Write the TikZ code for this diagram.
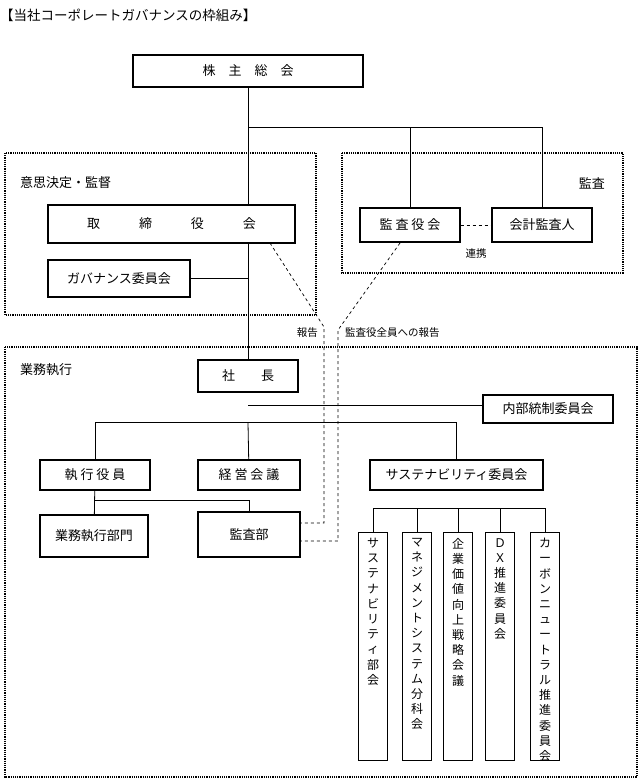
\documentclass[tikz,border=0pt]{standalone}
\usepackage{fontspec}
\setmainfont{Noto Sans CJK JP}
\usetikzlibrary{positioning}

\tikzset{
  box/.style={draw, line width=1.1pt, inner sep=0pt, font=\fontsize{13}{15}\selectfont},
  tall/.style={draw, line width=1.1pt, inner sep=0pt, minimum width=29pt, minimum height=228pt, anchor=north},
  vtext/.style={anchor=north, align=center, inner sep=0pt, font=\fontsize{12}{15.2}\selectfont},
  area/.style={draw, densely dotted, line width=1.2pt},
  link/.style={line width=0.8pt},
  note/.style={dashed, line width=0.7pt},
  lbl/.style={font=\fontsize{13}{15}\selectfont, inner sep=0pt}
}

\begin{document}
\begin{tikzpicture}[x=1pt, y=-1pt]
        \useasboundingbox (0,0) rectangle (640,780);
        \node[lbl, anchor=west] (title) at (0,15) {\fontsize{13.5}{15}\selectfont 【当社コーポレートガバナンスの枠組み】};

        % areas
        \draw[area] (5,153) rectangle (316,315);
        \draw[area] (342,153) rectangle (623,273);
        \draw[area] (5,347) rectangle (637,777);
        \node[lbl, anchor=west] (decide) at (20,183) {意思決定・監督};
        \node[lbl, anchor=east] (audit) at (605,183) {監査};
        \node[lbl, anchor=west] (exec) at (20,370) {業務執行};

        % boxes
        \node[box, minimum width=230pt, minimum height=32pt] (meeting) at (248,71) {株　主　総　会};
        \node[box, minimum width=247pt, minimum height=38pt] (board) at (171.5,224) {取\hspace{3em}締\hspace{3em}役\hspace{3em}会};
        \node[box, minimum width=142pt, minimum height=37pt] (govcom) at (119,278.5) {ガバナンス委員会};
        \node[box, minimum width=100pt, minimum height=34pt] (auditors) at (410,225) {監 査 役 会};
        \node[box, minimum width=100pt, minimum height=34pt] (accountant) at (542,225) {会計監査人};
        \node[box, minimum width=100pt, minimum height=32pt] (president) at (248,376) {社\hspace{2em}長};
        \node[box, minimum width=130pt, minimum height=28pt] (control) at (548,409) {内部統制委員会};
        \node[box, minimum width=110pt, minimum height=30pt] (officers) at (95,475) {執 行 役 員};
        \node[box, minimum width=102pt, minimum height=30pt] (mgmt) at (249,475) {経 営 会 議};
        \node[box, minimum width=173pt, minimum height=30pt] (sustain) at (456.5,475) {サステナビリティ委員会};
        \node[box, minimum width=108pt, minimum height=42pt] (division) at (94,536) {業務執行部門};
        \node[box, minimum width=102pt, minimum height=45pt] (internal) at (249,534.5) {監査部};

        % committees under sustain
        \foreach \n/\x/\t in {s1/373/サ\\ス\\テ\\ナ\\ビ\\リ\\テ\\ィ\\部\\会,
                              s2/417/マ\\ネ\\ジ\\メ\\ン\\ト\\シ\\ス\\テ\\ム\\分\\科\\会,
                              s3/458/企\\業\\価\\値\\向\\上\\戦\\略\\会\\議,
                              s4/500/Ｄ\\Ｘ\\推\\進\\委\\員\\会,
                              s5/545/カ\\ー\\ボ\\ン\\ニ\\ュ\\ー\\ト\\ラ\\ル\\推\\進\\委\\員\\会}{
          \node[tall] (\n) at (\x,532) {};
          \node[vtext] at (\x,538) {\t};
        }

        % links
        \draw[link] (meeting) -- (board.north -| meeting);
        \draw[link] (board.south -| meeting) -- (president);
        \draw[link] (meeting.south) ++(0,40) coordinate (split) -| (accountant);
        \draw[link] (split -| auditors) -- (auditors);
        \draw[link] (govcom) -- (govcom -| meeting);
        \draw[link] (president.south) ++(0,13) coordinate (ctl) -- (ctl -| control.west);
        \draw[link] (president.south) ++(0,30) coordinate (row) -| (officers);
        \draw[link] (row) -| (sustain);
        \draw[link] (row) -- (mgmt);
        \draw[link] (officers) -- (division);
        \draw[link] (officers.south) ++(0,10) coordinate (dep) -| (internal);
        \draw[link] (sustain.south) ++(0,18) coordinate (hub) -- (hub -| s1) -- (s1);
        \draw[link] (hub) -- (hub -| s5) -- (s5);
        \foreach \n in {s2,s3,s4} \draw[link] (hub -| \n) -- (\n);

        % reports
        \draw[note] (auditors) -- (accountant);
        \node[lbl, font=\fontsize{10.5}{12}\selectfont] (coop) at (476,254) {連携};
        \draw[note] (270,243) -- (324,327) |- (internal.east |- 0,523);
        \draw[note] (400,243) -- (338,330) |- (internal.east |- 0,541);
        \node[lbl, anchor=east, font=\fontsize{10.5}{12}\selectfont] (rep1) at (318,333) {報告};
        \node[lbl, anchor=west, font=\fontsize{10.5}{12}\selectfont] (rep2) at (345,333) {監査役全員への報告};
\end{tikzpicture}
\end{document}
